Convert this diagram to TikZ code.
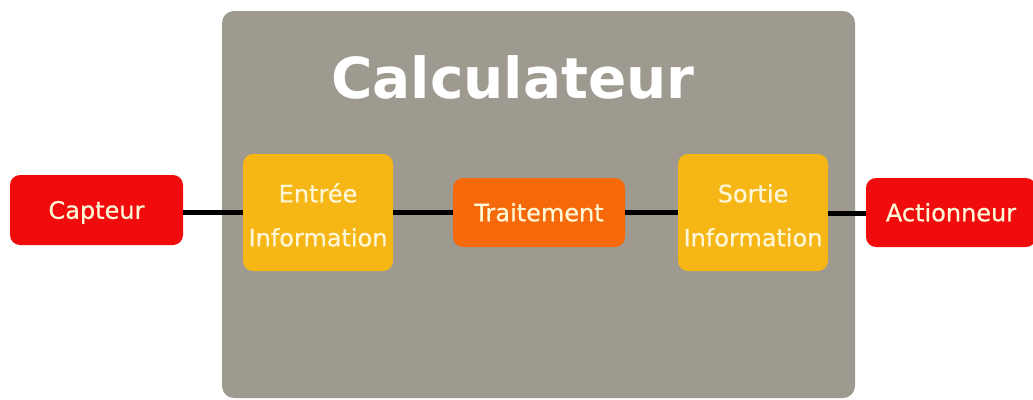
\documentclass[tikz,border=0pt]{standalone}
\usepackage{fontspec}
\setmainfont{DejaVu Sans}
\newfontfamily\lblfont[FakeBold=0.6]{DejaVu Sans}
\definecolor{calcgray}{RGB}{158,154,143}
\definecolor{boxred}{RGB}{240,12,12}
\definecolor{boxamber}{RGB}{245,182,22}
\definecolor{boxorange}{RGB}{245,105,10}
\definecolor{txtcream}{RGB}{255,246,214}
\tikzset{
  blk/.style={rounded corners=10pt, inner sep=0pt, text=txtcream, align=center,
    font=\lblfont\fontsize{24}{44}\selectfont},
  onel/.style={text height=17.5pt, text depth=0pt},
  redbox/.style={blk, onel, fill=boxred},
  amberbox/.style={blk, fill=boxamber},
  orangebox/.style={blk, onel, fill=boxorange},
  link/.style={line width=5pt, black}
}
\begin{document}
\begin{tikzpicture}[x=1pt,y=-1pt]
\useasboundingbox (0,0) rectangle (1033,399);
\fill[white] (0,0) rectangle (1033,399);
% container
\node[fill=calcgray, rounded corners=12pt, minimum width=633pt, minimum height=387pt, inner sep=0pt] (calc) at (538.5,204.5) {};
\node[text=white, font=\fontsize{56.5}{60}\selectfont\bfseries] (title) at (513,77) {Calculateur};
% blocks
\node[redbox, minimum width=173pt, minimum height=70pt] (capteur) at (96.5,210) {Capteur};
\node[amberbox, minimum width=150pt, minimum height=117pt] (entree) at (318,212.5) {\rule{0pt}{24pt}Entrée\\Information};
\node[orangebox, minimum width=172pt, minimum height=69pt] (trait) at (539,212.5) {Traitement};
\node[amberbox, minimum width=150pt, minimum height=117pt] (sortie) at (753,212.5) {\rule{0pt}{24pt}Sortie\\Information};
\node[redbox, minimum width=170pt, minimum height=69pt] (act) at (951,212.5) {Actionneur};
% connectors
\draw[link] (capteur.east) ++(0,2) -- (entree.west |- 0,212);
\draw[link] (entree.east |- 0,212) -- (trait.west |- 0,212);
\draw[link] (trait.east |- 0,212.5) -- (sortie.west |- 0,212.5);
\draw[link] (sortie.east |- 0,213) -- (act.west |- 0,213);
\end{tikzpicture}
\end{document}
